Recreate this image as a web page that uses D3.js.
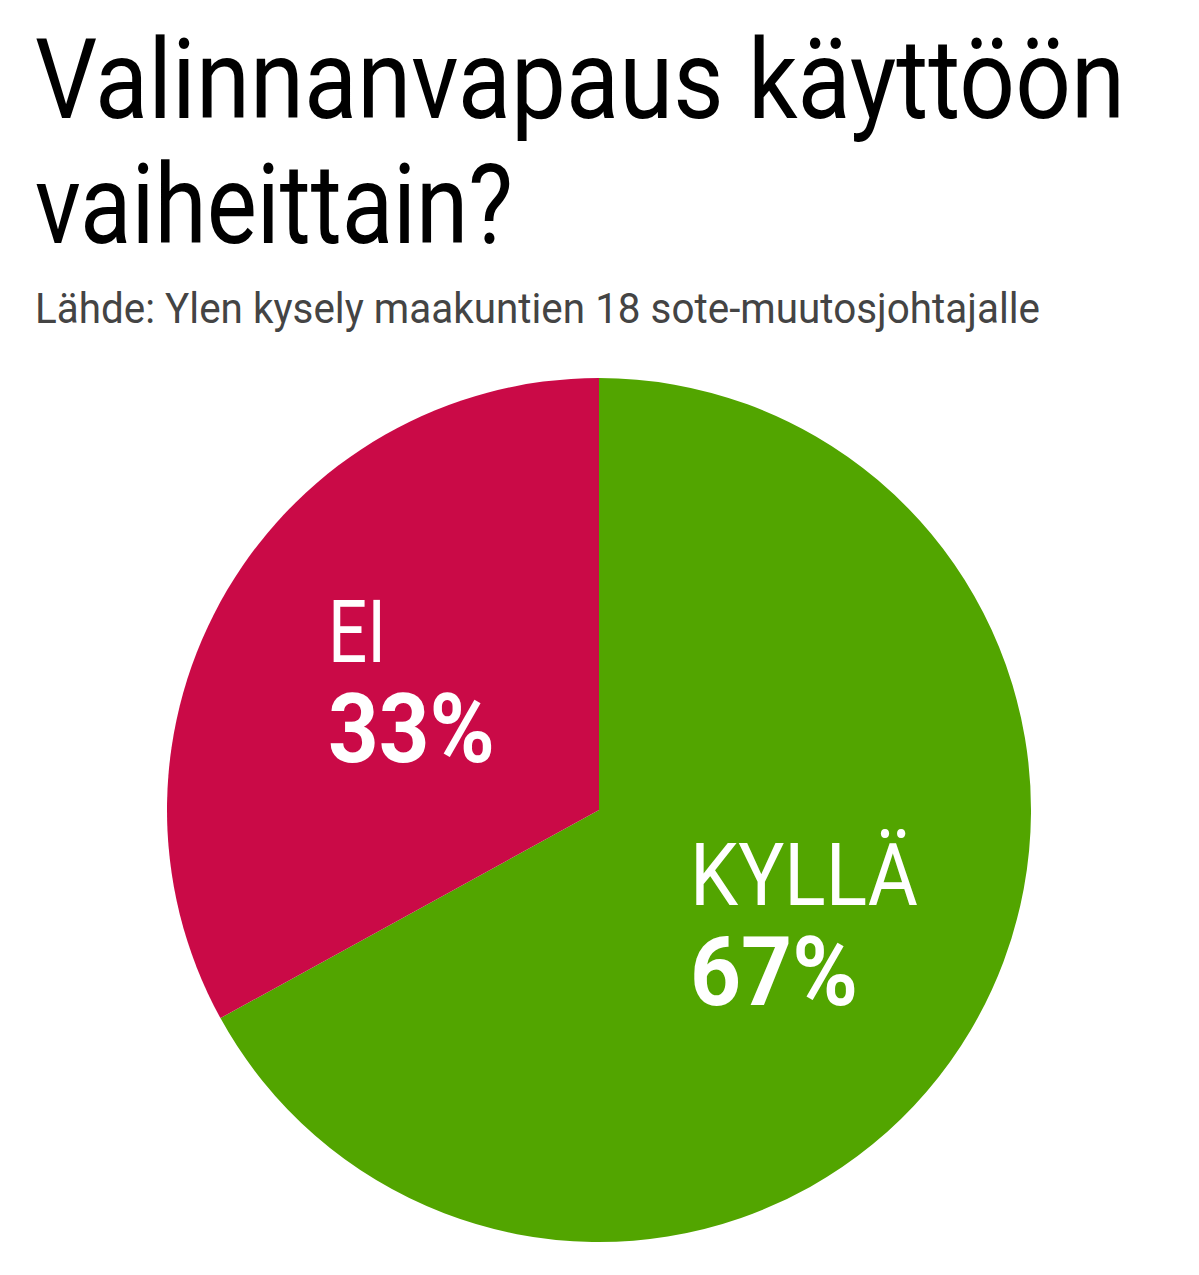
<!DOCTYPE html>
<html><head><meta charset="utf-8">
<script src="https://cdn.jsdelivr.net/npm/d3@7"></script>
<style>body{margin:0;background:#fff}</style></head>
<body><svg id="c" width="1199" height="1275"></svg>
<script>
const categories = ["KYLLÄ","EI"];
const values = [67,33];
const colors = ["#52A500","#CA0A47"];
const title = ["Valinnanvapaus käyttöön","vaiheittain?"];
const subtitle = "Lähde: Ylen kysely maakuntien 18 sote-muutosjohtajalle";

const svg = d3.select("#c");
const F = "'Liberation Sans Narrow','Roboto','DejaVu Sans Condensed',sans-serif";
function fit(sel, w){ const n=sel.node(); const l=n.getComputedTextLength(); if(l>0) sel.attr("textLength",w).attr("lengthAdjust","spacingAndGlyphs"); return sel;}

fit(svg.append("text").attr("x",35).attr("y",118).attr("font-family",F).attr("font-size",112).attr("fill","#000").text(title[0]),1090);
fit(svg.append("text").attr("x",35).attr("y",243).attr("font-family",F).attr("font-size",112).attr("fill","#000").text(title[1]),478);
fit(svg.append("text").attr("x",35).attr("y",323).attr("font-family",F).attr("font-size",42).attr("fill","#444").text(subtitle),1005);

const cx=599, cy=810, r=432;
const pie=d3.pie().sort(null).value(d=>d)(values);
const arc=d3.arc().innerRadius(0).outerRadius(r);
const g=svg.append("g").attr("transform",`translate(${cx},${cy})`);
g.selectAll("path").data(pie).join("path").attr("d",arc).attr("fill",(d,i)=>colors[i]);

const labels=[
 {cat:"KYLLÄ",pct:"67%",x:690,y1:905,w1:228,y2:1005,w2:168},
 {cat:"EI",pct:"33%",x:328,y1:662,w1:58,y2:762,w2:167}
];
labels.forEach((L,i)=>{
  fit(svg.append("text").attr("x",L.x).attr("y",L.y1).attr("font-family",F).attr("font-size",88).attr("fill","#fff").text(categories[i]),L.w1);
  fit(svg.append("text").attr("x",L.x).attr("y",L.y2).attr("font-family",F).attr("font-weight","bold").attr("font-size",96).attr("fill","#fff").text(values[i]+"%"),L.w2);
});
</script></body></html>
